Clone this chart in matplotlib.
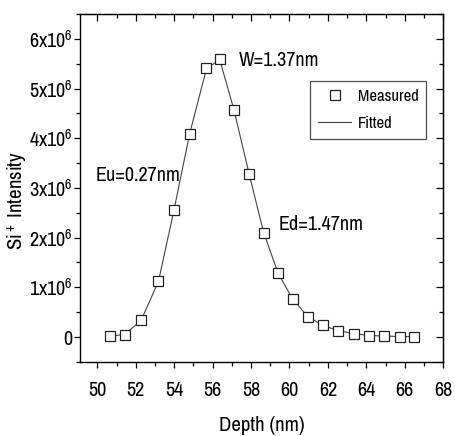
import matplotlib
matplotlib.use("Agg")
import matplotlib.pyplot as plt
from matplotlib.ticker import MultipleLocator, FuncFormatter

# narrow sans, close to the Arial Narrow of the original
plt.rcParams['font.family'] = ['Archivo Narrow', 'PT Sans Narrow', 'Liberation Sans', 'DejaVu Sans']
plt.rcParams['mathtext.fontset'] = 'custom'
plt.rcParams['mathtext.rm'] = 'Archivo Narrow'
plt.rcParams['mathtext.it'] = 'Archivo Narrow'

# measured SIMS depth profile
depth = [50.64, 51.44, 52.27, 53.18, 53.99, 54.81, 55.68, 56.37, 57.11, 57.90, 58.65,
         59.41, 60.16, 60.95, 61.72, 62.50, 63.36, 64.15, 64.93, 65.74, 66.49]
measured = [0.02e6, 0.05e6, 0.34e6, 1.13e6, 2.55e6, 4.09e6, 5.41e6, 5.60e6, 4.56e6, 3.29e6, 2.10e6,
            1.29e6, 0.76e6, 0.40e6, 0.24e6, 0.12e6, 0.07e6, 0.03e6, 0.02e6, 0.01e6, 0.01e6]
fitted = [0.01e6, 0.06e6, 0.33e6, 1.12e6, 2.56e6, 4.10e6, 5.40e6, 5.58e6, 4.57e6, 3.28e6, 2.11e6,
          1.28e6, 0.77e6, 0.41e6, 0.24e6, 0.13e6, 0.07e6, 0.03e6, 0.02e6, 0.01e6, 0.01e6]

fig = plt.figure(figsize=(4.55, 4.36), dpi=100)
ax = fig.add_axes([0.176, 0.170, 0.798, 0.798])

ax.plot(depth, fitted, color='#444444', lw=0.8, label='Fitted', zorder=2)
ax.plot(depth, measured, ls='none', marker='s', ms=7, mfc='white', mec='#222222', mew=0.9,
        label='Measured', zorder=3)

ax.set_xlim(49.1, 68)
ax.set_ylim(-0.5e6, 6.5e6)
ax.xaxis.set_major_locator(MultipleLocator(2))
ax.xaxis.set_minor_locator(MultipleLocator(1))
ax.yaxis.set_major_locator(MultipleLocator(1e6))
ax.yaxis.set_minor_locator(MultipleLocator(0.5e6))


def yfmt(v, pos):
    n = int(round(v / 1e6))
    if n == 0:
        return '0'
    return r'%dx10$^{6}$' % n


ax.yaxis.set_major_formatter(FuncFormatter(yfmt))

ax.tick_params(which='both', direction='out', top=False, right=False, labelsize=14.5, width=0.9)
ax.tick_params(which='major', length=4)
ax.tick_params(which='minor', length=3)
ax.tick_params(axis='x', which='major', pad=10)
ax.tick_params(axis='y', which='major', pad=1.5)
for s in ax.spines.values():
    s.set_linewidth(1.0)

# inward ticks on top and right
sec_x = ax.secondary_xaxis('top')
sec_x.xaxis.set_major_locator(MultipleLocator(2))
sec_x.xaxis.set_minor_locator(MultipleLocator(1))
sec_x.tick_params(which='both', direction='in', labeltop=False, width=0.9)
sec_x.tick_params(which='major', length=5)
sec_x.tick_params(which='minor', length=3)
sec_y = ax.secondary_yaxis('right')
sec_y.yaxis.set_major_locator(MultipleLocator(1e6))
sec_y.yaxis.set_minor_locator(MultipleLocator(0.5e6))
sec_y.tick_params(which='both', direction='in', labelright=False, width=0.9)
sec_y.tick_params(which='major', length=5)
sec_y.tick_params(which='minor', length=3)

ax.set_xlabel('Depth (nm)', fontsize=15, labelpad=11)
ax.set_ylabel('Si$^+$ Intensity', fontsize=15, va='center')
ax.yaxis.set_label_coords(-0.174, 0.463)

ax.text(57.36, 5.56e6, 'W=1.37nm', fontsize=14.5, va='center')
ax.text(49.91, 3.25e6, 'Eu=0.27nm', fontsize=14.5, va='center')
ax.text(59.44, 2.26e6, 'Ed=1.47nm', fontsize=14.5, va='center')

handles, labels = ax.get_legend_handles_labels()
leg = ax.legend(handles[::-1], labels[::-1], loc='upper right', bbox_to_anchor=(0.953, 0.807),
                borderaxespad=0, fontsize=12, frameon=True, fancybox=False, edgecolor='#222222',
                numpoints=1, handlelength=2.0, borderpad=0.45, labelspacing=0.75, handletextpad=0.4)
leg.get_frame().set_linewidth(0.9)

fig.savefig('out.png', dpi=100)
